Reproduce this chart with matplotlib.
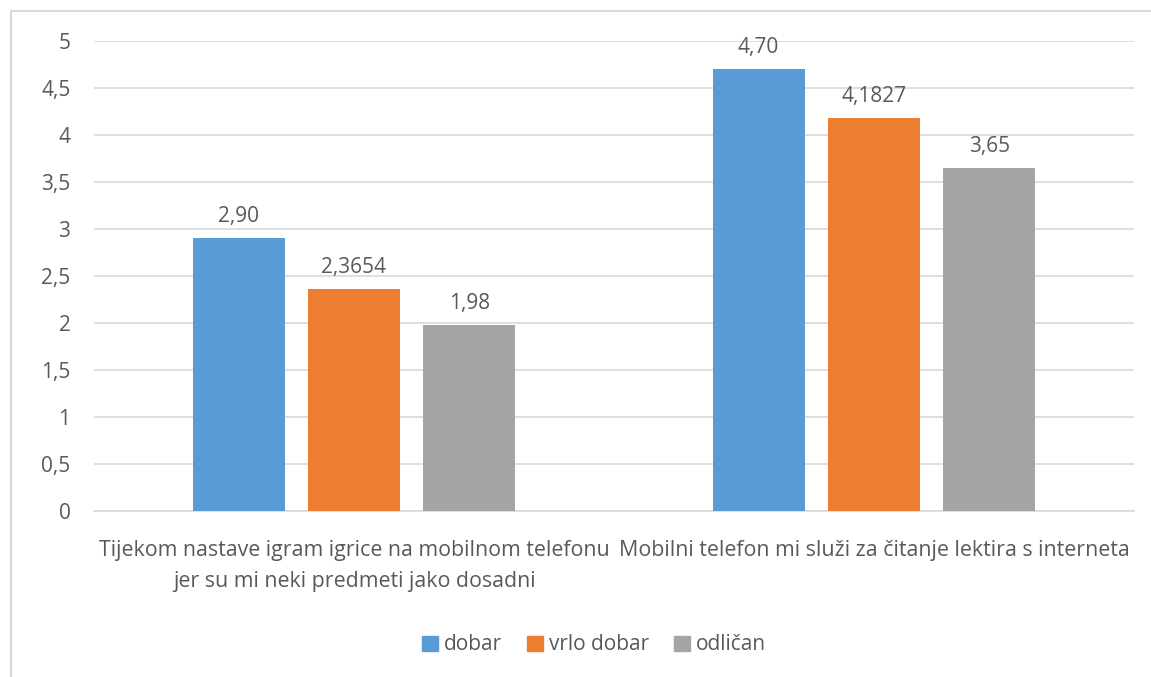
import matplotlib
matplotlib.use("Agg")
import matplotlib.pyplot as plt
from matplotlib.patches import Rectangle, Patch
import numpy as np

categories = ["Tijekom nastave igram igrice na mobilnom telefonu\njer su mi neki predmeti jako dosadni",
              "Mobilni telefon mi služi za čitanje lektira s interneta"]
series_names = ["dobar", "vrlo dobar", "odličan"]
dobar = [2.90, 4.70]
vrlo_dobar = [2.3654, 4.1827]
odlican = [1.98, 3.65]
value_labels = [["2,90", "4,70"], ["2,3654", "4,1827"], ["1,98", "3,65"]]
colors = ["#5b9bd5", "#ed7d31", "#a5a5a5"]
yticks = [0, 0.5, 1, 1.5, 2, 2.5, 3, 3.5, 4, 4.5, 5]

plt.rcParams['font.family'] = ['Open Sans', 'DejaVu Sans']
txt = "#595959"
fs = 15

fig = plt.figure(figsize=(11.51, 6.77), dpi=100)
W, H = 1151, 677
# chart border
fig.patches.append(Rectangle((10.5 / W, -0.1), 1.2, 1 - 11 / H + 0.1, transform=fig.transFigure,
                             fill=False, edgecolor="#d9d9d9", linewidth=1.5))
ax = fig.add_axes([94 / W, 1 - 511 / H, (1134 - 94) / W, (511 - 41) / H])

x = np.arange(len(categories))
width = 0.177
offs = [-0.222, 0, 0.222]
data = [dobar, vrlo_dobar, odlican]
for i, (vals, c) in enumerate(zip(data, colors)):
    bars = ax.bar(x + offs[i], vals, width, color=c, zorder=3, label=series_names[i])
    for b, lab in zip(bars, value_labels[i]):
        ax.annotate(lab, (b.get_x() + b.get_width() / 2, b.get_height()), xytext=(0, 16),
                    textcoords="offset pixels", ha="center", va="baseline", fontsize=fs, color=txt)

ax.set_xlim(-0.5, 1.5)
ax.set_ylim(0, 5)
ax.set_yticks(yticks)
ax.set_yticklabels([("%g" % t).replace(".", ",") for t in yticks], fontsize=fs, color=txt)
ax.set_xticks(x)
ax.set_xticklabels(categories, fontsize=15.4, color=txt, linespacing=1.6)
ax.tick_params(axis="both", length=0)
ax.tick_params(axis="y", pad=17)
ax.tick_params(axis="x", pad=21)
ax.grid(axis="y", color="#d9d9d9", linewidth=1.2, zorder=0)
for s in ["top", "right", "left"]:
    ax.spines[s].set_visible(False)
ax.spines["bottom"].set_color("#d9d9d9")
ax.spines["bottom"].set_linewidth(1.2)

handles = [Patch(color=c) for c in colors]
fig.legend(handles, series_names, loc="center", bbox_to_anchor=(594 / W, 1 - 645 / H), ncol=3,
           frameon=False, fontsize=fs, handlelength=0.75, handleheight=0.75, handletextpad=0.3,
           columnspacing=1.2, labelcolor=txt)

fig.savefig("out.png", dpi=100)
